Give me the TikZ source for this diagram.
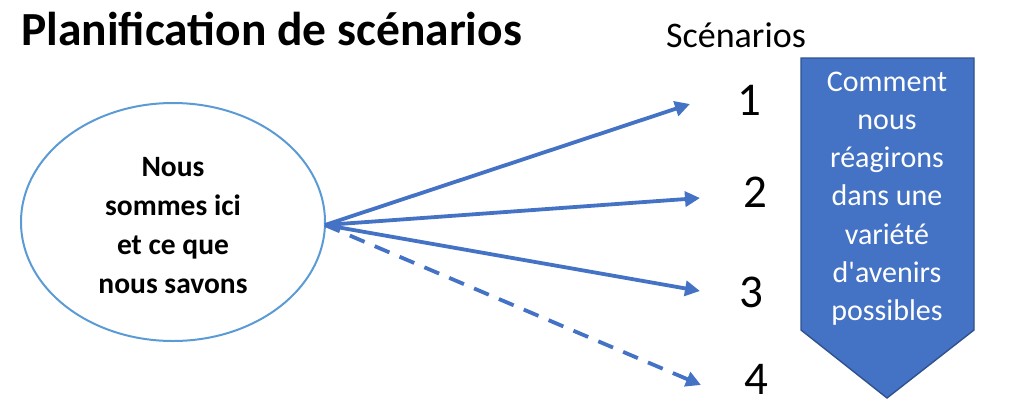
\documentclass[tikz,border=0pt]{standalone}
\usepackage{fontspec}
\setmainfont{Carlito}[Ligatures=TeXOff]
\usetikzlibrary{arrows.meta}
\definecolor{arrowblue}{HTML}{4472C4}
\definecolor{ellblue}{HTML}{5B9BD5}
\definecolor{boxedge}{HTML}{2F528F}
\tikzset{
  flow/.style={draw=arrowblue, line width=3.8pt, -{Triangle[length=15pt,width=15pt]}},
  numlab/.style={font=\fontsize{47}{47}\selectfont, inner sep=0pt},
}
\begin{document}
\begin{tikzpicture}[x=1pt,y=-1pt]
\useasboundingbox (0,0) rectangle (1036,399);
% title
\node[anchor=base west, inner sep=0pt, font=\bfseries\fontsize{47.5}{47.5}\selectfont] (title) at (21,45) {Planification de scénarios};
\node[anchor=base, inner sep=0pt, font=\fontsize{36}{36}\selectfont] (scen) at (736,47) {Scénarios};
% ellipse
\draw[ellblue, line width=2pt] (173,222) ellipse [x radius=152, y radius=119];
\coordinate (src) at (325,225);
\node[align=center, inner sep=0pt, font=\bfseries\fontsize{29.5}{39}\selectfont] (here) at (173,226) {Nous\\sommes ici\\et ce que\\nous savons};
% targets
\coordinate (t1) at (690,104);
\coordinate (t2) at (700,198);
\coordinate (t3) at (700,291);
\coordinate (t4) at (701,385);
\draw[flow] (src) -- (t1);
\draw[flow] (src) -- (t2);
\draw[flow] (src) -- (t3);
\draw[flow, dash pattern=on 16pt off 11pt] (src) -- (t4);
% numbers
\node[numlab] (n1) at (749,100) {1};
\node[numlab] (n2) at (755,192) {2};
\node[numlab] (n3) at (751.5,292.5) {3};
\node[numlab] (n4) at (756,379.5) {4};
% box
\draw[fill=arrowblue, draw=boxedge, line width=1.4pt] (801,58) -- (974,58) -- (974,330) -- (887,398) -- (801,330) -- cycle;
\node[align=center, text=white, inner sep=0pt, font=\fontsize{30}{38.2}\selectfont] (box) at (887,198.5) {Comment\\nous\\réagirons\\dans une\\variété\\d'avenirs\\possibles};
\end{tikzpicture}
\end{document}
